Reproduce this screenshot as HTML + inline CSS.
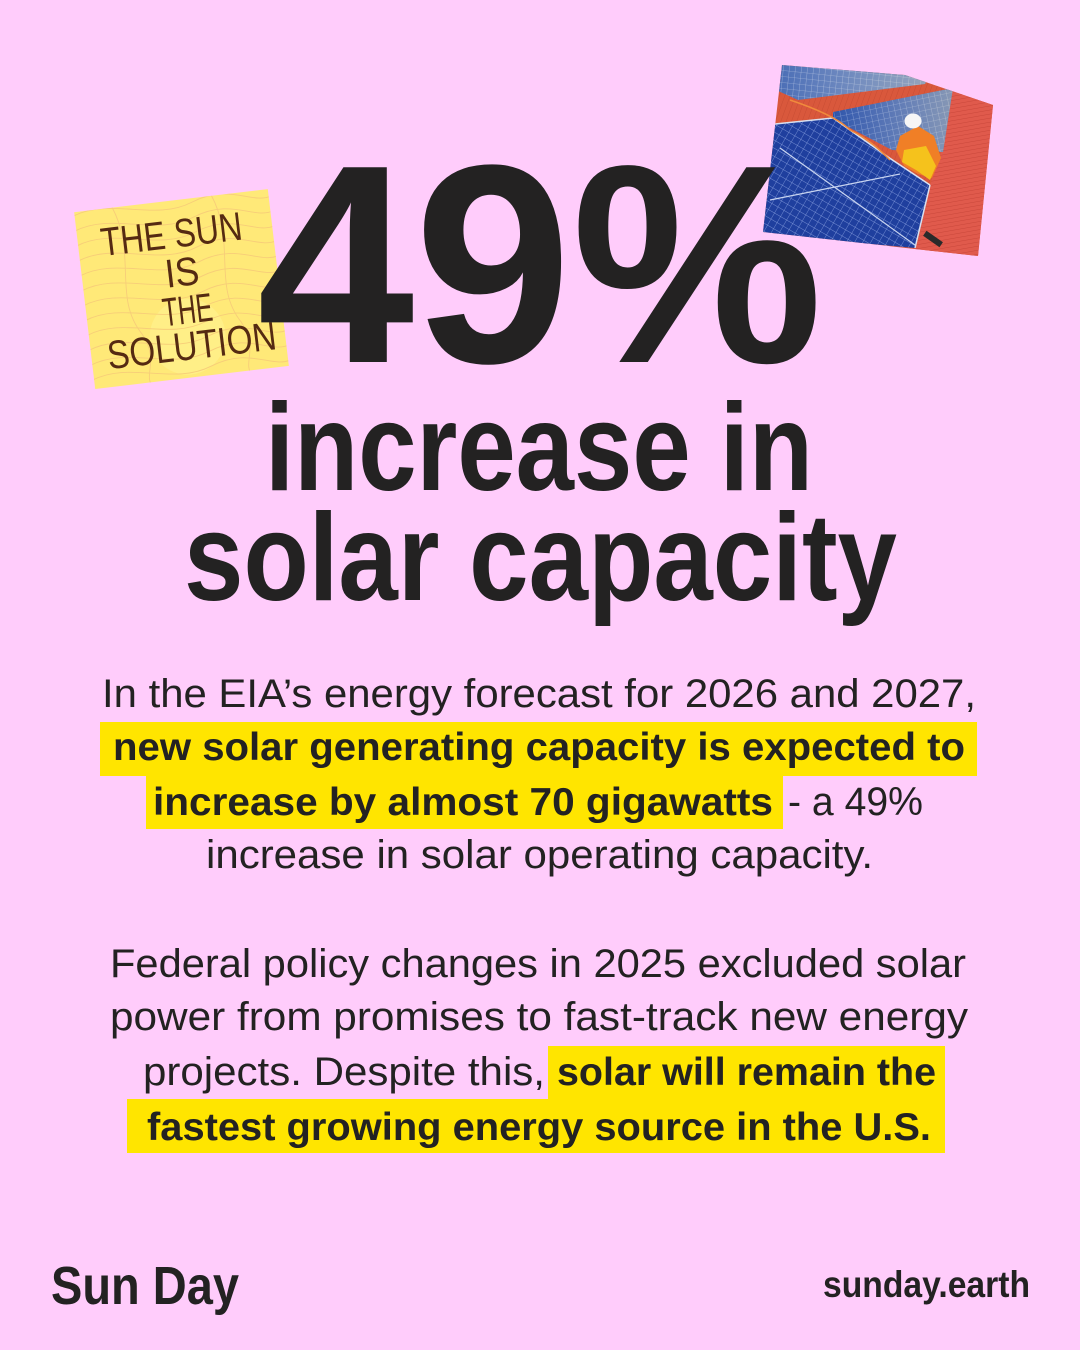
<!DOCTYPE html>
<html>
<head>
<meta charset="utf-8">
<style>
  html,body{margin:0;padding:0;background:#ffccfb;}
  body{width:1080px;height:1350px;overflow:hidden;}
  svg{display:block;}
  .reg{font-family:"Liberation Sans",sans-serif;font-weight:400;fill:#232222;}
  .bld{font-family:"Liberation Sans",sans-serif;font-weight:700;fill:#232222;}
</style>
</head>
<body>
<svg width="1080" height="1350" viewBox="0 0 1080 1350" xmlns="http://www.w3.org/2000/svg">
  <defs>
    <clipPath id="photoClip">
      <polygon points="782,65 905,75 993,105 978,256 763,232"/>
    </clipPath>
    <pattern id="cellsDark" width="7" height="7" patternUnits="userSpaceOnUse" patternTransform="rotate(30)">
      <rect width="7" height="7" fill="#1f3f9e"/>
      <path d="M0 0H7M0 0V7" stroke="#8ea5e4" stroke-width="0.7"/>
    </pattern>
    <pattern id="cellsMid" width="6" height="6" patternUnits="userSpaceOnUse" patternTransform="rotate(-12)">
      <rect width="6" height="6" fill="#2f55aa"/>
      <path d="M0 0H6M0 0V6" stroke="#9fb3df" stroke-width="0.6"/>
    </pattern>
    <pattern id="cellsTop" width="6" height="6" patternUnits="userSpaceOnUse" patternTransform="rotate(6)">
      <rect width="6" height="6" fill="#4a6db5"/>
      <path d="M0 0H6M0 0V6" stroke="#b4c3e2" stroke-width="0.6"/>
    </pattern>
    <linearGradient id="glare" x1="0" y1="0" x2="1" y2="0">
      <stop offset="0" stop-color="#ffffff" stop-opacity="0"/>
      <stop offset="1" stop-color="#f3e9c0" stop-opacity="0.45"/>
    </linearGradient>
    <pattern id="ridges" width="4" height="4" patternUnits="userSpaceOnUse" patternTransform="rotate(80)">
      <rect width="4" height="4" fill="#e05a4c"/>
      <path d="M0 0V4" stroke="#c9473a" stroke-width="1"/>
    </pattern>
    <pattern id="ridges2" width="5" height="5" patternUnits="userSpaceOnUse" patternTransform="rotate(20)">
      <rect width="5" height="5" fill="#d9583c"/>
      <path d="M0 0V5" stroke="#c84c33" stroke-width="1"/>
    </pattern>
    <clipPath id="noteClip">
      <rect x="-98" y="-89" width="195" height="178"/>
    </clipPath>
  </defs>

  <rect width="1080" height="1350" fill="#ffccfb"/>

  <!-- Photo -->
  <g clip-path="url(#photoClip)">
    <rect x="755" y="60" width="245" height="205" fill="url(#ridges2)"/>
    <polygon points="952,90 995,104 980,258 912,252 930,185 942,150" fill="url(#ridges)"/>
    <!-- top panel -->
    <polygon points="778,62 930,74 925,84 798,100 776,90" fill="url(#cellsTop)"/>
    <polygon points="778,62 930,74 925,84 798,100 776,90" fill="url(#glare)"/>
    <!-- middle panel -->
    <polygon points="833,112 953,88 943,152 892,150 833,119" fill="url(#cellsMid)"/>
    <polygon points="833,112 953,88 943,152 892,150 833,119" fill="url(#glare)"/>
    <!-- big panel -->
    <polygon points="775,124 833,118 888,157 930,185 915,248 760,234" fill="url(#cellsDark)"/>
    <path d="M775 124 L833 118 L888 157 L930 185" stroke="#d8e0f0" stroke-width="1.5" fill="none"/>
    <path d="M930 185 L915 248" stroke="#d8e0f0" stroke-width="1.5" fill="none"/>
    <path d="M770 200 L900 174" stroke="#c8d4f0" stroke-width="1.2" fill="none"/>
    <path d="M780 148 L915 245" stroke="#c8d4f0" stroke-width="1.2" fill="none"/>
    <!-- cables -->
    <path d="M790 100 C820 110 840 120 850 130 C870 140 880 150 890 160" stroke="#f08a3c" stroke-width="1.5" fill="none"/>
    <!-- worker -->
    <polygon points="900,136 918,126 934,136 941,158 932,178 918,174 904,166 896,150" fill="#f07f26"/>
    <polygon points="904,150 926,146 936,166 930,180 916,170 902,162" fill="#f5c21c"/>
    <ellipse cx="913" cy="121" rx="8.5" ry="7.5" fill="#f6f6f6"/>
    <rect x="923" y="236" width="20" height="6" fill="#2a2a2a" transform="rotate(35 933 239)"/>
  </g>

  <!-- Sticky note -->
  <g transform="translate(182,289) rotate(-6.8)">
    <rect x="-98" y="-89" width="195" height="178" fill="#ffe978"/>
    <g clip-path="url(#noteClip)" fill="none" stroke="#f4c47a" stroke-width="0.9" opacity="0.75">
      <circle cx="0" cy="48" r="38" fill="#fff08c" stroke="none"/>
      <path d="M-100 -85 C-60 -100 -20 -70 20 -85 C60 -100 80 -75 100 -82"/>
      <path d="M-100 -70 C-60 -85 -20 -55 20 -70 C60 -85 80 -60 100 -67"/>
      <path d="M-100 -55 C-60 -70 -20 -40 20 -55 C60 -70 80 -45 100 -52"/>
      <path d="M-100 -40 C-60 -55 -20 -25 20 -40 C60 -55 80 -30 100 -37"/>
      <path d="M-100 -25 C-60 -40 -20 -10 20 -25 C60 -40 80 -15 100 -22"/>
      <path d="M-100 -10 C-60 -25 -20 5 20 -10 C60 -25 80 0 100 -7"/>
      <path d="M-100 5 C-60 -10 -20 20 20 5 C60 -10 80 15 100 8"/>
      <path d="M-100 20 C-60 5 -20 35 20 20 C60 5 80 30 100 23"/>
      <path d="M-100 35 C-60 20 -20 50 20 35 C60 20 80 45 100 38"/>
      <path d="M-100 50 C-60 35 -20 65 20 50 C60 35 80 60 100 53"/>
      <path d="M-100 65 C-60 50 -20 80 20 65 C60 50 80 75 100 68"/>
      <path d="M-100 80 C-60 65 -20 95 20 80 C60 65 80 90 100 83"/>
      <path d="M-60 -90 C-40 -40 -70 0 -45 40 C-30 70 -50 80 -40 95"/>
      <path d="M40 -90 C60 -40 30 0 55 40 C70 70 50 80 60 95"/>
    </g>
    <g font-family="'Liberation Sans Narrow','Liberation Sans',sans-serif" font-weight="400" fill="#552a12" text-anchor="middle">
      <text x="-4" y="-42" font-size="40" textLength="142" lengthAdjust="spacingAndGlyphs">THE SUN</text>
      <text x="2" y="-3" font-size="40" textLength="34" lengthAdjust="spacingAndGlyphs">IS</text>
      <text x="3" y="35" font-size="40" textLength="50" lengthAdjust="spacingAndGlyphs">THE</text>
      <text x="3" y="71" font-size="40" textLength="170" lengthAdjust="spacingAndGlyphs">SOLUTION</text>
    </g>
  </g>

  <!-- Big headline -->
  <text class="bld" x="257" y="362" font-size="283" textLength="566" lengthAdjust="spacingAndGlyphs">49%</text>
  <text class="bld" x="265" y="490" font-size="124" textLength="548" lengthAdjust="spacingAndGlyphs">increase in</text>
  <text class="bld" x="184" y="600" font-size="124" textLength="713" lengthAdjust="spacingAndGlyphs">solar capacity</text>

  <!-- Highlights -->
  <rect x="100" y="722" width="877" height="54" fill="#ffe500"/>
  <rect x="146" y="775" width="637" height="54" fill="#ffe500"/>
  <rect x="548" y="1046" width="397" height="54" fill="#ffe500"/>
  <rect x="127" y="1099" width="818" height="54" fill="#ffe500"/>

  <!-- Paragraph 1 -->
  <text class="reg" x="102" y="707" font-size="40" textLength="874" lengthAdjust="spacingAndGlyphs">In the EIA’s energy forecast for 2026 and 2027,</text>
  <text class="bld" x="113" y="760" font-size="39" textLength="852" lengthAdjust="spacingAndGlyphs">new solar generating capacity is expected to</text>
  <text class="bld" x="153" y="815" font-size="39" textLength="620" lengthAdjust="spacingAndGlyphs">increase by almost 70 gigawatts</text>
  <text class="reg" x="788" y="815" font-size="40" textLength="135" lengthAdjust="spacingAndGlyphs">- a 49%</text>
  <text class="reg" x="206" y="868" font-size="40" textLength="667" lengthAdjust="spacingAndGlyphs">increase in solar operating capacity.</text>

  <!-- Paragraph 2 -->
  <text class="reg" x="110" y="977" font-size="40" textLength="856" lengthAdjust="spacingAndGlyphs">Federal policy changes in 2025 excluded solar</text>
  <text class="reg" x="110" y="1030" font-size="40" textLength="858" lengthAdjust="spacingAndGlyphs">power from promises to fast-track new energy</text>
  <text class="reg" x="143" y="1085" font-size="40" textLength="402" lengthAdjust="spacingAndGlyphs">projects. Despite this,</text>
  <text class="bld" x="557" y="1085" font-size="39" textLength="379" lengthAdjust="spacingAndGlyphs">solar will remain the</text>
  <text class="bld" x="147" y="1140" font-size="39" textLength="784" lengthAdjust="spacingAndGlyphs">fastest growing energy source in the U.S.</text>

  <!-- Footer -->
  <text class="bld" x="51" y="1304" font-size="54" textLength="188" lengthAdjust="spacingAndGlyphs">Sun Day</text>
  <text class="bld" x="823" y="1297" font-size="37" textLength="207" lengthAdjust="spacingAndGlyphs">sunday.earth</text>
</svg>
</body>
</html>
